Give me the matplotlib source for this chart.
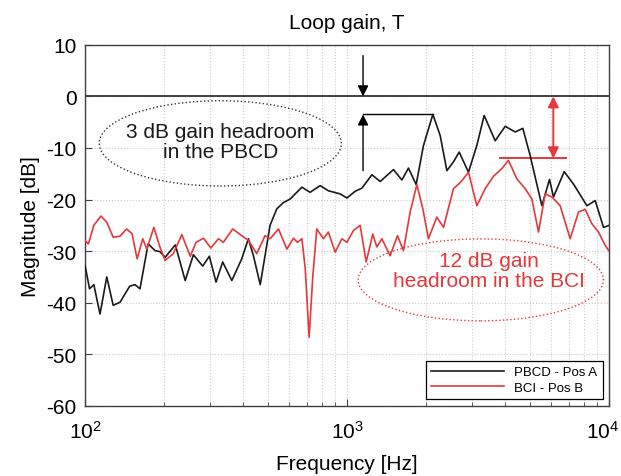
import matplotlib
matplotlib.use("Agg")
import matplotlib.pyplot as plt
import matplotlib.transforms as mtransforms
from matplotlib.patches import Ellipse
import numpy as np

plt.rcParams['font.family'] = ['Liberation Sans', 'DejaVu Sans']
plt.rcParams['mathtext.fontset'] = 'custom'
plt.rcParams['mathtext.rm'] = 'Liberation Sans'
plt.rcParams['mathtext.default'] = 'regular'
plt.rcParams['axes.unicode_minus'] = False

# PBCD - Pos A (black)
freq_pbcd = [100, 104, 108, 114, 121, 128, 136, 148, 155, 162, 174, 185, 193, 202,
             221, 241, 259, 281, 298, 316, 335, 363, 396, 420, 439, 466, 486, 508,
             539, 571, 606, 672, 722, 789, 848, 940, 998, 1073, 1138, 1243, 1337,
             1502, 1618, 1714, 1834, 1956, 2124, 2265, 2402, 2545, 2676, 2904, 3126,
             3333, 3672, 4011, 4378, 4683, 4994, 5535, 5918, 6129, 6734, 7307, 8221,
             8844, 9511, 10000]
mag_pbcd = [-32.8, -37.3, -36.5, -42.2, -35.0, -40.5, -39.9, -36.8, -36.5, -37.3,
            -28.6, -29.9, -30.1, -31.2, -28.8, -35.7, -30.7, -32.9, -31.0, -36.0,
            -32.1, -35.7, -31.5, -27.6, -30.9, -36.5, -30.9, -25.0, -21.8, -20.6,
            -19.9, -17.6, -18.6, -17.3, -18.3, -18.9, -19.7, -18.4, -17.8, -15.2,
            -16.5, -14.2, -16.2, -13.9, -17.1, -9.5, -3.5, -7.6, -14.4, -12.7,
            -10.8, -14.7, -9.5, -3.7, -8.6, -5.8, -6.9, -6.2, -11.5, -21.2, -16.1,
            -19.5, -14.6, -17.0, -21.2, -20.2, -25.4, -25.0]

# BCI - Pos B (red)
freq_bci = [100, 103, 108, 115, 121, 128, 136, 144, 151, 158, 166, 172, 183, 193,
            202, 217, 234, 252, 265, 283, 302, 323, 337, 366, 396, 420, 452, 486,
            508, 547, 589, 624, 646, 672, 692, 716, 740, 766, 812, 848, 900, 955,
            998, 1057, 1121, 1182, 1253, 1298, 1357, 1459, 1556, 1640, 1740, 1845,
            1945, 2043, 2200, 2332, 2545, 2716, 2904, 3126, 3363, 3618, 3895, 4127,
            4443, 4780, 5070, 5373, 5698, 6043, 6501, 7098, 7635, 8098, 8590, 9103,
            9654, 10000]
mag_bci = [-28.0, -28.6, -25.0, -23.2, -24.4, -27.3, -27.1, -25.7, -26.6, -31.5,
           -27.6, -29.6, -25.4, -29.2, -31.8, -30.5, -26.8, -31.0, -28.3, -27.5,
           -29.4, -27.6, -28.3, -25.7, -27.0, -27.9, -30.5, -27.0, -27.6, -25.7,
           -29.6, -27.5, -28.3, -27.6, -33.4, -46.7, -34.7, -25.7, -27.6, -26.3,
           -30.2, -27.6, -28.3, -26.0, -25.0, -32.1, -26.7, -29.2, -27.6, -30.9,
           -27.0, -29.9, -22.4, -17.1, -21.8, -27.6, -23.4, -25.4, -17.9, -16.6,
           -14.7, -21.2, -17.9, -15.5, -14.0, -12.4, -16.0, -17.9, -19.9, -26.3,
           -18.9, -19.5, -21.2, -27.6, -22.4, -21.9, -24.7, -26.3, -28.9, -30.0]

pbcd_peak = -3.5       # 3 dB headroom level
bci_peak = -12.0       # 12 dB headroom level
arrow_f_pbcd = 1150
arrow_f_bci = 6120
bci_line_f = [3840, 6860]
pbcd_line_f = [1150, 2124]
decades = [1e2, 1e3, 1e4]

red = '#e4383c'

fig = plt.figure(figsize=(6.21, 4.77), dpi=100)
ax = fig.add_axes([0.137, 0.147, 0.844, 0.757])

ax.semilogx(freq_pbcd, mag_pbcd, color='#1a1a1a', lw=1.2, label='PBCD - Pos A', zorder=3)
ax.semilogx(freq_bci, mag_bci, color=red, lw=1.2, label='BCI - Pos B', zorder=3)
ax.axhline(0, color='#404040', lw=1.4, zorder=2)

ax.set_xlim(100, 10000)
ax.set_ylim(-60, 10)
ax.set_xticks(decades)
ax.set_yticks(np.arange(-60, 11, 10))
ax.grid(True, which='major', color='#cccccc', ls=':', lw=0.8)
ax.grid(True, which='minor', axis='x', color='#cccccc', ls=':', lw=0.8)
ax.tick_params(which='both', direction='in', labelsize=15, color='#404040')
ax.tick_params(axis='y', pad=6)
ax.tick_params(axis='x', pad=10)
ax.tick_params(which='major', length=5)
ax.tick_params(which='minor', length=3)
for s in ax.spines.values():
    s.set_color('#404040')
    s.set_linewidth(1.0)

ax.set_title('Loop gain, T', fontsize=15, pad=12)
ax.set_xlabel('Frequency [Hz]', fontsize=15, labelpad=9)
ax.set_ylabel('Magnitude [dB]', fontsize=15, labelpad=5)

# PBCD headroom annotation
ax.annotate('', xy=(arrow_f_pbcd, 0), xytext=(arrow_f_pbcd, 7.9),
            arrowprops=dict(arrowstyle='-|>', color='black', lw=1.0,
                            mutation_scale=16, shrinkA=0, shrinkB=0))
ax.annotate('', xy=(arrow_f_pbcd, pbcd_peak), xytext=(arrow_f_pbcd, -14.4),
            arrowprops=dict(arrowstyle='-|>', color='black', lw=1.0,
                            mutation_scale=16, shrinkA=0, shrinkB=0))
ax.plot(pbcd_line_f, [pbcd_peak, pbcd_peak], color='black', lw=1.0)

# BCI headroom annotation
ax.annotate('', xy=(arrow_f_bci, 0), xytext=(arrow_f_bci, bci_peak),
            arrowprops=dict(arrowstyle='<|-|>', color=red, lw=1.4,
                            mutation_scale=16, shrinkA=0, shrinkB=0))
ax.plot(bci_line_f, [bci_peak, bci_peak], color=red, lw=1.4)

ell1 = Ellipse((0.258, 0.727), 0.462, 0.236, transform=ax.transAxes,
               fill=False, ls=':', lw=1.0, ec='#333333', zorder=4)
ax.add_patch(ell1)
ax.text(0.258, 0.732, '3 dB gain headroom\nin the PBCD', transform=ax.transAxes,
        fontsize=15, ha='center', va='center', linespacing=1.1, color='#1a1a1a')

ell2 = Ellipse((0.755, 0.349), 0.468, 0.227, transform=ax.transAxes,
               fill=False, ls=':', lw=1.0, ec=red, zorder=4)
ax.add_patch(ell2)
ax.text(0.77, 0.375, '12 dB gain\nheadroom in the BCI', transform=ax.transAxes,
        fontsize=15, ha='center', va='center', linespacing=1.1, color=red)

leg = ax.legend(loc='lower right', fontsize=9.5, fancybox=False, framealpha=1,
                edgecolor='black', handlelength=5.5, borderaxespad=0.5,
                borderpad=0.4, labelspacing=0.25)
leg.get_frame().set_linewidth(0.9)

# nudge the 10^4 label so it stays inside the figure
fig.canvas.draw()
last = ax.get_xticklabels()[-1]
shift = mtransforms.ScaledTranslation(-5 / 72, 0, fig.dpi_scale_trans)
last.set_transform(last.get_transform() + shift)

fig.savefig('out.png', dpi=100)
